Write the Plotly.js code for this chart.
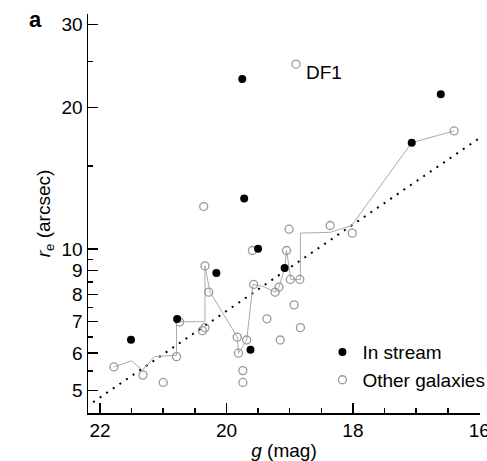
<!DOCTYPE html>
<html>
<head>
<meta charset="utf-8">
<script src="https://cdn.plot.ly/plotly-3.0.1.min.js"></script>
<style>html,body{margin:0;padding:0;background:#fff;}#chart{width:487px;height:461px;}</style>
</head>
<body>
<div id="chart"></div>
<script>
// In-stream galaxies (filled)
const streamG = [21.51, 20.78, 20.16, 19.62, 19.72, 19.50, 19.08, 19.75, 17.07, 16.61];
const streamR = [6.41, 7.09, 8.89, 6.10, 12.79, 10.0, 9.10, 22.97, 16.82, 21.32];

// Other galaxies (open)
const otherG = [21.78, 21.32, 21.00, 20.79, 20.74, 20.38, 20.34, 20.28, 20.34, 20.36,
                19.83, 19.81, 19.68, 19.74, 19.74, 19.57, 19.36, 19.23, 19.17, 19.15,
                18.99, 18.84, 18.93, 18.83, 19.01, 19.59, 19.05, 18.36, 18.01, 16.40, 18.90];
const otherR = [5.61, 5.39, 5.20, 5.90, 6.99, 6.70, 6.80, 8.09, 9.20, 12.30,
                6.49, 6.00, 6.40, 5.51, 5.20, 8.40, 7.10, 8.09, 8.29, 6.40,
                8.61, 8.61, 7.60, 6.80, 11.01, 9.92, 9.92, 11.21, 10.80, 17.81, 24.7];

// Grey running line
const lineG = [21.78, 21.50, 21.33, 21.14, 20.79, 20.79, 20.34, 20.34, 20.26, 19.83,
               19.81, 19.68, 19.58, 19.42, 19.23, 19.17, 19.08, 19.05, 18.98, 18.83,
               18.83, 18.36, 18.02, 17.07, 16.40];
const lineR = [5.61, 5.78, 5.52, 5.90, 5.94, 7.00, 7.00, 9.20, 8.09, 6.50,
               6.00, 6.40, 8.40, 8.32, 8.09, 8.29, 9.10, 9.92, 8.61, 8.61,
               10.80, 10.84, 11.21, 16.82, 17.81];

// Dotted reference relation
const relG = [22.11, 16.0];
const relR = [4.72, 17.19];

const xTicks = [22, 20, 18, 16];
const xMinor = [21.5, 21, 20.5, 19.5, 19, 18.5, 17.5, 17, 16.5];
const yTicks = [5, 6, 7, 8, 9, 10, 20, 30];
const yMinor = [5.5, 6.5, 7.5, 8.5, 9.5, 15, 25];

const FONT = 'Liberation Sans, Arial, Helvetica, sans-serif';
const FS = 19;

const traces = [
  {x: relG, y: relR, mode: 'lines', line: {color: '#000', width: 2, dash: '2px,6px'}, showlegend: false, hoverinfo: 'skip'},
  {x: lineG, y: lineR, mode: 'lines', line: {color: '#aaa', width: 1}, showlegend: false, hoverinfo: 'skip'},
  {x: otherG, y: otherR, mode: 'markers', name: 'Other galaxies',
   marker: {symbol: 'circle-open', size: 8, color: '#999', line: {width: 1.3, color: '#999'}}},
  {x: streamG, y: streamR, mode: 'markers', name: 'In stream',
   marker: {symbol: 'circle', size: 8, color: '#000'}}
];

const layout = {
  width: 487, height: 461,
  margin: {l: 88, r: 7, t: 14, b: 48, pad: 0, autoexpand: false},
  paper_bgcolor: '#fff', plot_bgcolor: '#fff',
  font: {family: FONT, size: FS, color: '#000'},
  showlegend: true,
  legend: {x: 0.598, y: 0.20, xanchor: 'left', yanchor: 'top', traceorder: 'reversed',
           bgcolor: 'rgba(0,0,0,0)', font: {family: FONT, size: FS, color: '#000'}, tracegroupgap: 0},
  xaxis: {
    range: [22.19, 15.99], showgrid: false, zeroline: false, automargin: false,
    showline: true, linecolor: '#000', linewidth: 1.5, ticklabeloverflow: 'allow',
    tickmode: 'array', tickvals: xTicks, ticktext: xTicks.map(String),
    ticks: 'inside', ticklen: 10, tickwidth: 1.5, tickcolor: '#000',
    minor: {tickmode: 'array', tickvals: xMinor, ticks: 'inside', ticklen: 5, tickwidth: 1.5, tickcolor: '#000', showgrid: false},
    tickfont: {family: FONT, size: FS, color: '#000'},
    title: {text: '<i>g</i> (mag)', font: {family: FONT, size: FS, color: '#000'}, standoff: 6}
  },
  yaxis: {
    type: 'log', range: [0.651, 1.4993], showgrid: false, zeroline: false, automargin: false,
    showline: true, linecolor: '#000', linewidth: 1.5, ticklabeloverflow: 'allow',
    tickmode: 'array', tickvals: yTicks, ticktext: yTicks.map(String),
    ticks: 'inside', ticklen: 10, tickwidth: 1.5, tickcolor: '#000',
    minor: {tickmode: 'array', tickvals: yMinor, ticks: 'inside', ticklen: 5, tickwidth: 1.5, tickcolor: '#000', showgrid: false},
    tickfont: {family: FONT, size: FS, color: '#000'},
    title: {text: '<i>r</i><sub>e</sub> (arcsec)', font: {family: FONT, size: FS, color: '#000'}, standoff: 6}
  },
  annotations: [
    {x: 18.90, y: Math.log10(24.7), xref: 'x', yref: 'y', text: 'DF1', showarrow: false,
     xanchor: 'left', yanchor: 'middle', xshift: 8, yshift: -8, font: {family: FONT, size: FS, color: '#000'}},
    {x: -0.135, y: 0.985, xref: 'paper', yref: 'paper', text: '<b>a</b>', showarrow: false,
     xanchor: 'center', yanchor: 'middle', font: {family: FONT, size: 22, color: '#000'}}
  ]
};

Plotly.newPlot('chart', traces, layout, {displayModeBar: false, staticPlot: true});
</script>
</body>
</html>
